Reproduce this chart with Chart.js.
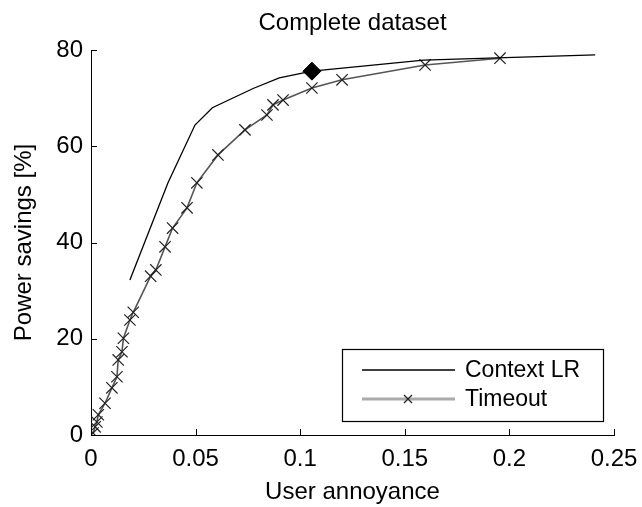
<!DOCTYPE html>
<html><head><meta charset="utf-8">
<script src="https://cdn.jsdelivr.net/npm/chart.js@4.4.0/dist/chart.umd.min.js"></script>
<style>html,body{margin:0;padding:0;background:#fff}#wrap{width:642px;height:507px}</style>
</head><body><div id="wrap"><canvas id="c" width="642" height="507"></canvas></div>
<script>
const titleText = 'Complete dataset';
const xTitle = 'User annoyance';
const yTitle = 'Power savings [%]';
const ctxLabel = 'Context LR';
const toLabel = 'Timeout';
const ctxX = [0.0186, 0.0368, 0.0497, 0.058, 0.0775, 0.090, 0.1056, 0.159, 0.241];
const ctxY = [32.2, 52.4, 64.4, 68.0, 72.0, 74.2, 75.6, 77.9, 79.0];
const markX = [0.1056];
const markY = [75.6];
const toX = [0.001, 0.002, 0.0028, 0.0035, 0.0067, 0.0100, 0.0124, 0.013, 0.0148, 0.0155, 0.0186, 0.0202, 0.0285, 0.031, 0.0354, 0.039, 0.0459, 0.0506, 0.0607, 0.0736, 0.0841, 0.087, 0.0918, 0.1056, 0.12, 0.1597, 0.1955];
const toY = [0.4, 1.7, 2.7, 4.2, 6.6, 9.8, 12.1, 15.6, 17.3, 20.1, 23.9, 25.5, 33.0, 34.3, 39.1, 43.0, 47.2, 52.4, 58.2, 63.4, 66.5, 68.6, 69.6, 72.1, 73.8, 76.9, 78.3];
const xTicks = [0, 0.05, 0.1, 0.15, 0.2, 0.25];
const xTickLabels = ['0', '0.05', '0.1', '0.15', '0.2', '0.25'];
const yTicks = [0, 20, 40, 60, 80];
const yTickLabels = ['0', '20', '40', '60', '80'];

const pts = (xs, ys) => xs.map((x, i) => ({x, y: ys[i]}));
const FONT = '"Liberation Sans", Arial, sans-serif';

const decor = {
  id: 'decor',
  afterDraw(chart) {
    const c = chart.ctx, a = chart.chartArea;
    const xs = chart.scales.x, ys = chart.scales.y;
    c.save();
    c.strokeStyle = '#000'; c.lineWidth = 1;
    xTicks.forEach(v => { const p = Math.round(xs.getPixelForValue(v)) + 0.5; c.beginPath(); c.moveTo(p, a.bottom); c.lineTo(p, a.bottom - 6); c.stroke(); });
    yTicks.forEach(v => { const p = Math.round(ys.getPixelForValue(v)) + 0.5; c.beginPath(); c.moveTo(a.left, p); c.lineTo(a.left + 6, p); c.stroke(); });
    c.fillStyle = '#000'; c.font = '24px ' + FONT; c.textAlign = 'center'; c.textBaseline = 'middle';
    c.fillText(titleText, (a.left + a.right) / 2, 23);
    const bx = a.right - 272, by = a.bottom - 86, bw = 261, bh = 72;
    c.fillStyle = '#fff'; c.fillRect(bx, by, bw, bh);
    c.strokeStyle = '#000'; c.lineWidth = 1.2; c.strokeRect(bx + 0.5, by + 0.5, bw, bh);
    const l1 = by + 21, l2 = by + 50;
    c.strokeStyle = '#000'; c.lineWidth = 1.3; c.beginPath(); c.moveTo(bx + 20, l1); c.lineTo(bx + 113, l1); c.stroke();
    c.strokeStyle = '#aaa'; c.lineWidth = 3; c.beginPath(); c.moveTo(bx + 20, l2); c.lineTo(bx + 113, l2); c.stroke();
    c.strokeStyle = '#222'; c.lineWidth = 1.2; const mx = bx + 66, r = 4;
    c.beginPath(); c.moveTo(mx - r, l2 - r); c.lineTo(mx + r, l2 + r); c.moveTo(mx - r, l2 + r); c.lineTo(mx + r, l2 - r); c.stroke();
    c.fillStyle = '#000'; c.font = '23px ' + FONT; c.textAlign = 'left'; c.textBaseline = 'middle';
    c.fillText(ctxLabel, bx + 123, l1 + 1);
    c.fillText(toLabel, bx + 123, l2 + 1);
    c.restore();
  }
};

new Chart(document.getElementById('c'), {
  type: 'scatter',
  data: {
    datasets: [
      { label: ctxLabel, data: pts(ctxX, ctxY), showLine: true, borderColor: '#000', borderWidth: 1.3, pointRadius: 0, tension: 0 },
      { label: toLabel, data: pts(toX, toY), showLine: true, borderColor: '#555', borderWidth: 1.6, pointStyle: 'crossRot', pointRadius: 8, pointBorderColor: '#222', pointBorderWidth: 1.2, tension: 0 },
      { label: 'marker', data: pts(markX, markY), pointStyle: 'rectRot', pointRadius: 9, backgroundColor: '#000', borderColor: '#000' }
    ]
  },
  options: {
    responsive: false, animation: false,
    layout: { padding: { top: 50, right: 28, left: 0, bottom: 0 } },
    plugins: { legend: { display: false }, title: { display: false }, tooltip: { enabled: false } },
    scales: {
      x: {
        type: 'linear', min: 0, max: 0.25,
        afterBuildTicks: s => { s.ticks = xTicks.map(v => ({value: v})); },
        ticks: { color: '#000', font: { family: FONT, size: 24 }, padding: 10, maxRotation: 0, callback: (v, i) => xTickLabels[i] },
        grid: { display: false, drawTicks: false },
        border: { display: true, color: '#000', width: 1 },
        title: { display: true, text: xTitle, color: '#000', font: { family: FONT, size: 24 }, padding: { top: 0, bottom: 0 } },
        afterFit: s => { s.height = 72; s.paddingRight = 0; s.paddingLeft = 0; }
      },
      y: {
        type: 'linear', min: 0, max: 80,
        afterBuildTicks: s => { s.ticks = yTicks.map(v => ({value: v})); },
        ticks: { color: '#000', font: { family: FONT, size: 24 }, padding: 8, callback: (v, i) => yTickLabels[i] },
        grid: { display: false, drawTicks: false },
        border: { display: true, color: '#000', width: 1 },
        title: { display: true, text: yTitle, color: '#000', font: { family: FONT, size: 24 }, padding: { top: 10, bottom: 0 } },
        afterFit: s => { s.width = 91; s.paddingTop = 0; s.paddingBottom = 0; }
      }
    }
  },
  plugins: [decor]
});
</script></body></html>
